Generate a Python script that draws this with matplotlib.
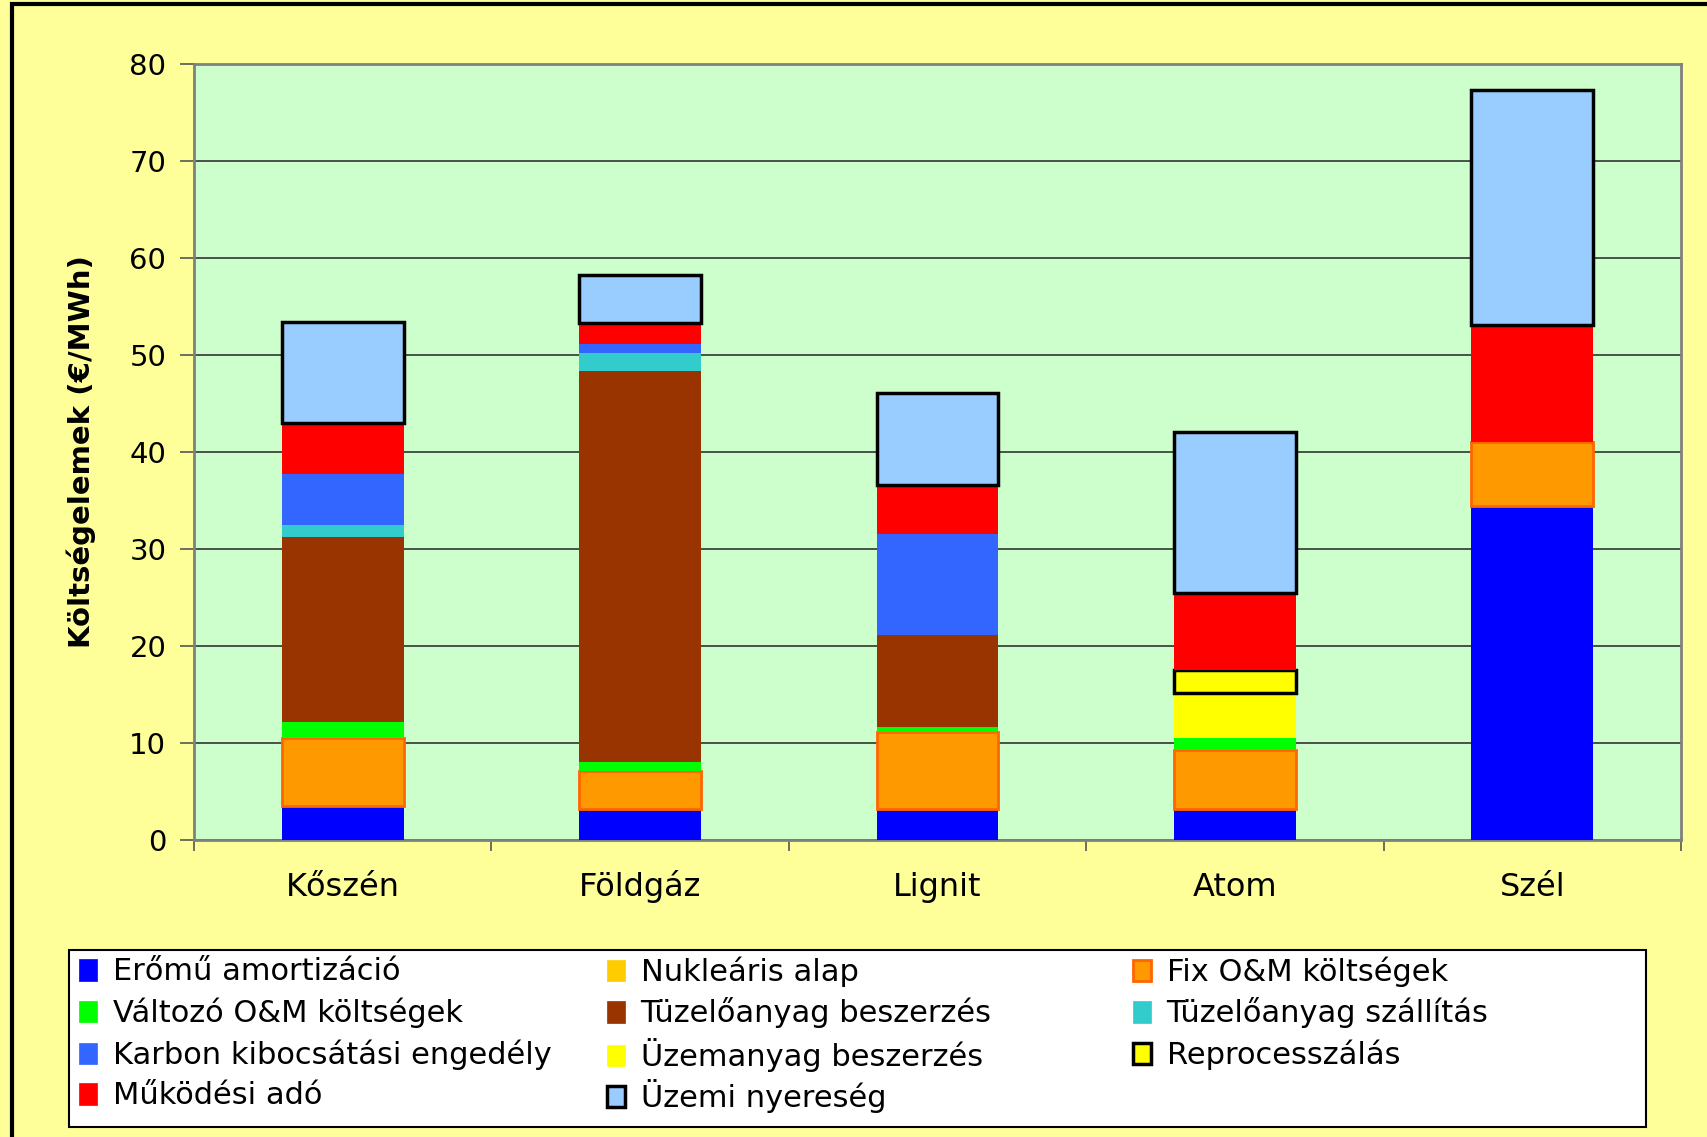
import matplotlib

matplotlib.use("Agg")
import matplotlib.pyplot as plt
import numpy as np
from matplotlib.patches import Patch, Rectangle

plt.rcParams["font.family"] = ["DejaVu Sans"]

# ── adatok ────────────────────────────────────────────────
categories = ["Kőszén", "Földgáz", "Lignit", "Atom", "Szél"]

amortizacio = [3.5, 3.2, 3.2, 3.2, 34.4]
nuklearis_alap = [0, 0, 0, 0, 0]
fix_om = [7.0, 3.95, 7.9, 6.1, 6.6]
valtozo_om = [1.7, 0.9, 0.6, 1.2, 0]
tuz_beszerzes = [19.0, 40.35, 9.45, 0, 0]
tuz_szallitas = [1.3, 1.8, 0, 0, 0]
karbon = [5.2, 0.9, 10.4, 0, 0]
uzemanyag = [0, 0, 0, 4.7, 0]
reprocesszalas = [0, 0, 0, 2.3, 0]
mukodesi_ado = [5.3, 2.25, 5.05, 8.0, 12.1]
nyereseg = [10.4, 4.95, 9.45, 16.6, 24.2]

y_ticks = [0, 10, 20, 30, 40, 50, 60, 70, 80]

# (címke, értékek, kitöltés, él színe, élvastagság)
series = [
    ("Erőmű amortizáció", amortizacio, "#0000FF", "none", 0),
    ("Nukleáris alap", nuklearis_alap, "#FFCC00", "none", 0),
    ("Fix O&M költségek", fix_om, "#FF9900", "#FF6600", 2),
    ("Változó O&M költségek", valtozo_om, "#00FF00", "none", 0),
    ("Tüzelőanyag beszerzés", tuz_beszerzes, "#993300", "none", 0),
    ("Tüzelőanyag szállítás", tuz_szallitas, "#33CCCC", "none", 0),
    ("Karbon kibocsátási engedély", karbon, "#3366FF", "none", 0),
    ("Üzemanyag beszerzés", uzemanyag, "#FFFF00", "none", 0),
    ("Reprocesszálás", reprocesszalas, "#FFFF00", "black", 2.5),
    ("Működési adó", mukodesi_ado, "#FF0000", "none", 0),
    ("Üzemi nyereség", nyereseg, "#99CCFF", "black", 2.5),
]

fig = plt.figure(figsize=(17.08, 11.37), dpi=100, facecolor="#FFFF99")
ax = fig.add_axes([0.1136, 0.2612, 0.8706, 0.6825])
ax.set_facecolor("#CCFFCC")

x = np.arange(len(categories))
bottom = np.zeros(len(categories))
handles = {}
for label, vals, fc, ec, lw in series:
    vals = np.array(vals, dtype=float)
    bars = ax.bar(x, vals, width=0.41, bottom=bottom, color=fc,
                  edgecolor=ec, linewidth=lw, zorder=3)
    for b, v in zip(bars, vals):
        if v == 0:
            b.set_visible(False)
    handles[label] = Patch(facecolor=fc, edgecolor=ec if lw else fc,
                           linewidth=lw if lw else 0.5)
    bottom += vals

ax.set_xlim(-0.5, len(categories) - 0.5)
ax.set_ylim(0, 80)
ax.set_yticks(y_ticks)
ax.tick_params(axis="y", labelsize=21, length=10, width=1.2, pad=10,
               color="#555555")
ax.yaxis.grid(True, color="#333333", linewidth=1.2, zorder=1)
ax.set_axisbelow(True)

# kategóriacímkék középen (közös alapvonalon), osztásjelek a határokon
ax.set_xticks(np.arange(len(categories) + 1) - 0.5)
ax.set_xticklabels([])
ax.set_xticks(x, minor=True)
ax.set_xticklabels(categories, minor=True, fontsize=23)
ax.tick_params(axis="x", which="major", length=8, width=1.2, color="#555555")
ax.tick_params(axis="x", which="minor", length=0, pad=40)
for lbl in ax.get_xticklabels(minor=True):
    lbl.set_verticalalignment("baseline")

for sp in ax.spines.values():
    sp.set_color("#808080")
    sp.set_linewidth(2)

ax.set_ylabel("Költségelemek (€/MWh)", fontsize=21, fontweight="bold",
              labelpad=24)

# jelmagyarázat: 3 oszlop, soronként olvasva; minden bejegyzés saját helyen
grid = [
    ["Erőmű amortizáció", "Nukleáris alap", "Fix O&M költségek"],
    ["Változó O&M költségek", "Tüzelőanyag beszerzés",
     "Tüzelőanyag szállítás"],
    ["Karbon kibocsátási engedély", "Üzemanyag beszerzés", "Reprocesszálás"],
    ["Működési adó", "Üzemi nyereség"],
]
col_x = [79, 607, 1133]
row_y = [972, 1013, 1055, 1096]

fig.patches.append(Rectangle((69 / 1708, 10 / 1137), 1577 / 1708, 177 / 1137,
                             transform=fig.transFigure, facecolor="white",
                             edgecolor="black", linewidth=1.5, zorder=1))
for ry, row in zip(row_y, grid):
    for cx, lab in zip(col_x, row):
        fig.legend([handles[lab]], [lab], loc="center left",
                   bbox_to_anchor=(cx / 1708, 1 - ry / 1137), frameon=False,
                   fontsize=22, borderpad=0, borderaxespad=0,
                   handlelength=0.6, handleheight=0.7, handletextpad=0.5)

# külső keret
fig.patches.append(Rectangle((12 / 1708, -0.05), 1.2, 1.05 - 4 / 1137,
                             transform=fig.transFigure, fill=False,
                             edgecolor="black", linewidth=3))

fig.savefig("out.png", dpi=100, facecolor=fig.get_facecolor())
